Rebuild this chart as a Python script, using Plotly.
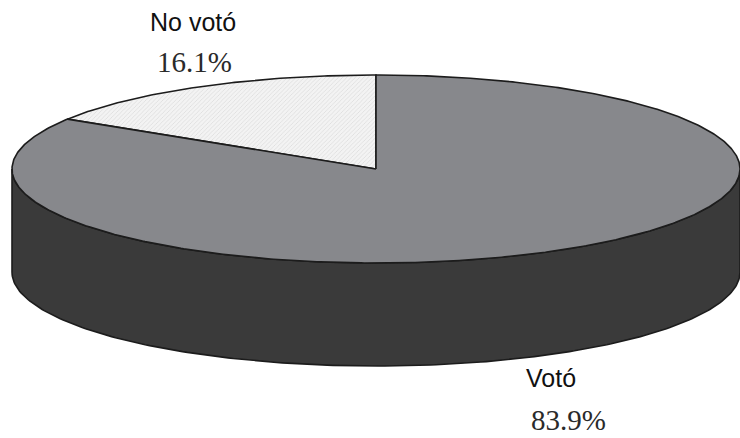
import numpy as np
import plotly.graph_objects as go

# Survey share: voted vs did not vote
labels = ["No votó", "Votó"]
values = [16.1, 83.9]
top_colors = ["#f3f3f3", "#87888c"]
side_color = "#3a3a3a"
edge_color = "#1c1c1c"

# Pie geometry in pixel space (ellipse seen at an angle, with thickness)
W, H = 740, 438
cx, cy = 376, 169
rx, ry = 364, 94
depth = 103
start_deg = 90.0


def ell(theta_deg, dy=0.0):
    t = np.radians(theta_deg)
    return cx + rx * np.cos(t), cy - ry * np.sin(t) + dy


fig = go.Figure()

# Front wall of the disc (visible lower half of the rim)
ang = np.linspace(180, 360, 200)
tx, ty = ell(ang)
bx, by = ell(ang[::-1], depth)
fig.add_trace(go.Scatter(
    x=np.concatenate([tx, bx, tx[:1]]), y=np.concatenate([ty, by, ty[:1]]),
    mode="lines", fill="toself", fillcolor=side_color,
    line=dict(color=edge_color, width=1.6), hoverinfo="skip", showlegend=False))

# Top face slices, counter-clockwise from 12 o'clock
total = sum(values)
a0 = start_deg
for lab, val, col in zip(labels, values, top_colors):
    a1 = a0 + 360.0 * val / total
    ang = np.linspace(a0, a1, max(int(abs(a1 - a0) * 2), 10))
    ex, ey = ell(ang)
    xs = np.concatenate([[cx], ex, [cx]])
    ys = np.concatenate([[cy], ey, [cy]])
    kw = {}
    if lab == "No votó":
        kw["fillpattern"] = dict(shape="/", fgcolor="#c4c4c4", bgcolor=col,
                                 size=3, solidity=0.25)
    fig.add_trace(go.Scatter(
        x=xs, y=ys, mode="lines", fill="toself", fillcolor=col,
        line=dict(color=edge_color, width=1.6), name=lab,
        hoverinfo="skip", showlegend=False, **kw))
    a0 = a1

# Category names and percentages (percent text anchored by its bottom edge)
label_pos = {"No votó": (193, 22, 194, 80), "Votó": (551, 378, 568, 438)}
for lab, val in zip(labels, values):
    nx, ny, px, py = label_pos[lab]
    fig.add_annotation(x=nx, y=ny, text=lab, showarrow=False,
                       font=dict(family="Liberation Sans, Arial", size=25, color="#111111"))
    fig.add_annotation(x=px, y=py, text=f"{val:.1f}%", showarrow=False,
                       yanchor="bottom",
                       font=dict(family="Liberation Serif, Times New Roman", size=29, color="#2a2a2a"))

fig.update_xaxes(range=[0, W], visible=False, fixedrange=True)
fig.update_yaxes(range=[H, 0], visible=False, fixedrange=True)
fig.update_layout(width=W, height=H, margin=dict(l=0, r=0, t=0, b=0),
                  paper_bgcolor="white", plot_bgcolor="white")

fig.write_html("out.html")
